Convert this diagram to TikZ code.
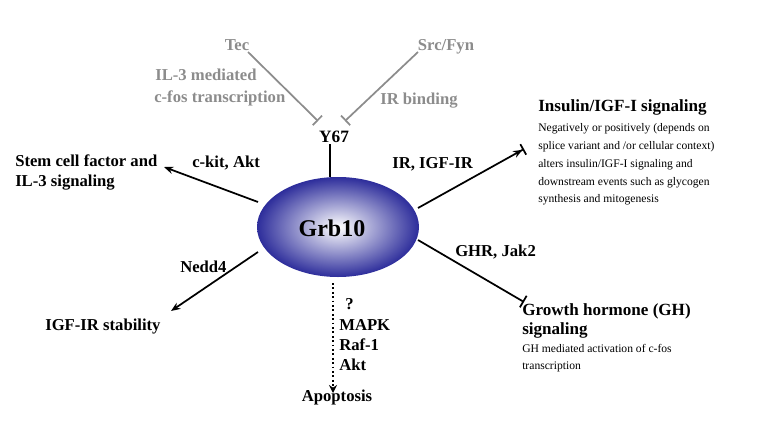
\documentclass[tikz,border=0pt]{standalone}
\usepackage{fontspec}
\setmainfont{Liberation Serif}
\usetikzlibrary{arrows.meta,shapes.geometric}
\definecolor{grbblue}{RGB}{45,45,155}
\definecolor{inhgray}{RGB}{140,140,140}
\tikzset{
  lbl/.style={font=\bfseries\fontsize{12.5}{14}\selectfont, inner sep=0pt, anchor=base west},
  glbl/.style={lbl, text=inhgray},
  body/.style={font=\fontsize{8.7}{13.5}\selectfont, inner sep=0pt, anchor=base west},
  ttl/.style={lbl, font=\bfseries\fontsize{12.8}{14}\selectfont},
  conn/.style={line width=1.3pt},
  gconn/.style={line width=1.3pt, draw=inhgray},
  act/.style={conn, -{Stealth[length=7pt,width=5.5pt]}},
  inh/.style={-{Bar[width=10pt,line width=1.3pt]}},
}
\begin{document}
\begin{tikzpicture}[x=0.75pt,y=-0.75pt]
\useasboundingbox (0,0) rectangle (768,443);
% central ellipse
\node[ellipse, minimum width=162*0.75pt, minimum height=100*0.75pt, inner sep=0pt,
      shading=radial, inner color=white, outer color=grbblue] (grb) at (338,227) {};
\node[font=\bfseries\fontsize{18}{20}\selectfont, inner sep=0pt] (grbtxt) at (332,228) {Grb10};

% Y67 and inhibitors
\node[font=\bfseries\fontsize{13}{15}\selectfont, inner sep=0pt, anchor=base] (y67) at (334,142) {Y67};
\draw[conn] (330,144) -- (330,177);
\node[glbl, anchor=base] (tec) at (237,50) {Tec};
\node[glbl, anchor=base] (src) at (446,50) {Src/Fyn};
\coordinate (tecs) at (248,52);
\coordinate (tece) at (318,121);
\coordinate (srcs) at (418,52);
\coordinate (srce) at (345,121);
\draw[gconn, inh, inhgray] (tecs) -- (tece);
\draw[gconn, inh, inhgray] (srcs) -- (srce);
\node[glbl] (il3) at (155,80) {IL-3 mediated};
\node[glbl] (cfos) at (154,102) {c-fos transcription};
\node[glbl] (irb) at (380,104) {IR binding};

% Stem cell factor
\node[lbl] (stem1) at (15,166) {Stem cell factor and};
\node[lbl] (stem2) at (15,186) {IL-3 signaling};
\node[lbl] (ckit) at (192,167) {c-kit, Akt};
\coordinate (stems) at (258,202);
\coordinate (steme) at (164,167);
\draw[act] (stems) -- (steme);

% Nedd4
\node[lbl] (nedd) at (180,272) {Nedd4};
\node[lbl] (igfst) at (45,330) {IGF-IR stability};
\coordinate (nedds) at (258,252);
\coordinate (nedde) at (171,311);
\draw[act] (nedds) -- (nedde);

% Apoptosis
\coordinate (apos) at (333,283);
\coordinate (apoe) at (333,393);
\draw[line width=1.3pt, dotted, -{Stealth[length=6pt,width=6pt]}] (apos) -- (apoe);
\node[lbl] (q) at (345,309) {?};
\node[lbl] (mapk) at (339,330) {MAPK};
\node[lbl] (raf) at (339,350) {Raf-1};
\node[lbl] (akt) at (339,370) {Akt};
\node[lbl, anchor=base] (apo) at (337,401) {Apoptosis};

% Insulin
\node[lbl] (irl) at (392,168) {IR, IGF-IR};
\coordinate (ins) at (418,208);
\coordinate (ine) at (524,149);
\draw[conn, -{Stealth[length=7pt,width=5.5pt]Bar[width=9pt,line width=1.3pt]}] (ins) -- (ine);
\node[ttl] (inst) at (538,111) {Insulin/IGF-I signaling};
\node[body] (ib1) at (538,131) {Negatively or positively (depends on};
\node[body] (ib2) at (538,149) {splice variant and /or cellular context)};
\node[body] (ib3) at (538,167) {alters insulin/IGF-I signaling and};
\node[body] (ib4) at (538,185) {downstream events such as glycogen};
\node[body] (ib5) at (538,202) {synthesis and mitogenesis};

% GH
\node[lbl] (ghr) at (455,256) {GHR, Jak2};
\coordinate (ghs) at (418,240);
\coordinate (ghe) at (524,302);
\draw[conn, inh] (ghs) -- (ghe);
\node[ttl] (gh1) at (522,315) {Growth hormone (GH)};
\node[ttl] (gh2) at (522,334) {signaling};
\node[body] (gb1) at (522,352) {GH mediated activation of c-fos};
\node[body] (gb2) at (522,369) {transcription};
\end{tikzpicture}
\end{document}
